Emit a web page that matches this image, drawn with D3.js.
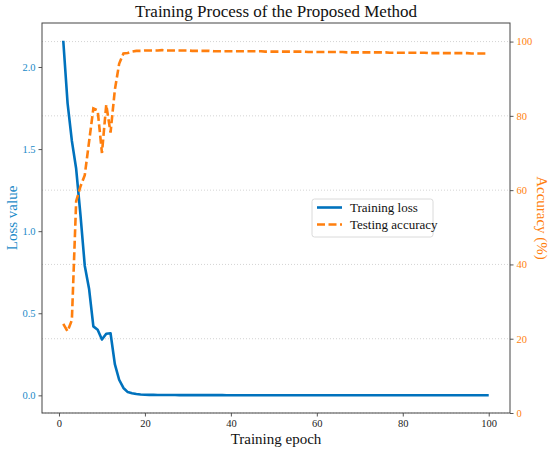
<!DOCTYPE html>
<html>
<head>
<meta charset="utf-8">
<script src="https://cdn.jsdelivr.net/npm/d3@7"></script>
<style>
  body { margin: 0; background: #fff; }
  text { font-family: "Liberation Serif", "Times New Roman", serif; }
</style>
</head>
<body>
<div id="chart"></div>
<script>
// values
var epochs = d3.range(1, 101);

var trainingLoss = [
  2.16, 1.78, 1.55, 1.38, 1.10, 0.79, 0.65, 0.42, 0.40, 0.34,
  0.375, 0.378, 0.19, 0.095, 0.045, 0.02, 0.013, 0.008, 0.005, 0.004,
  0.003, 0.003, 0.0025, 0.0022, 0.002, 0.002, 0.0018, 0.0016, 0.0015, 0.0015,
  0.0014, 0.0013, 0.0013, 0.0012, 0.0012, 0.0011, 0.0011, 0.0011, 0.001, 0.001,
  0.001, 0.001, 0.001, 0.001, 0.0009, 0.0009, 0.0009, 0.0009, 0.0009, 0.0009,
  0.0008, 0.0008, 0.0008, 0.0008, 0.0008, 0.0008, 0.0008, 0.0008, 0.0007, 0.0007,
  0.0007, 0.0007, 0.0007, 0.0007, 0.0007, 0.0007, 0.0007, 0.0006, 0.0006, 0.0006,
  0.0006, 0.0006, 0.0006, 0.0006, 0.0006, 0.0006, 0.0006, 0.0006, 0.0005, 0.0005,
  0.0005, 0.0005, 0.0005, 0.0005, 0.0005, 0.0005, 0.0005, 0.0005, 0.0005, 0.0005,
  0.0005, 0.0005, 0.0005, 0.0005, 0.0005, 0.0005, 0.0005, 0.0005, 0.0005, 0.0005
];

var testingAccuracy = [
  24.0, 22.0, 25.0, 57.0, 61.0, 64.0, 73.0, 82.0, 81.5, 70.0,
  83.0, 75.5, 87.0, 94.0, 96.8, 96.9, 97.3, 97.5, 97.5, 97.6,
  97.6, 97.6, 97.6, 97.7, 97.6, 97.6, 97.6, 97.6, 97.6, 97.6,
  97.5, 97.5, 97.5, 97.5, 97.5, 97.4, 97.4, 97.4, 97.4, 97.4,
  97.4, 97.4, 97.4, 97.4, 97.4, 97.4, 97.4, 97.3, 97.3, 97.3,
  97.3, 97.3, 97.3, 97.3, 97.3, 97.3, 97.3, 97.2, 97.2, 97.2,
  97.2, 97.2, 97.2, 97.2, 97.2, 97.2, 97.1, 97.1, 97.1, 97.1,
  97.1, 97.1, 97.1, 97.1, 97.1, 97.1, 97.0, 97.0, 97.0, 97.0,
  97.0, 97.0, 97.0, 97.0, 97.0, 96.9, 96.9, 96.9, 96.9, 96.9,
  96.9, 96.9, 96.9, 96.9, 96.9, 96.8, 96.8, 96.8, 96.8, 96.8
];

var xTicks = [0, 20, 40, 60, 80, 100];
var lossTicks = [0.0, 0.5, 1.0, 1.5, 2.0];
var accTicks = [0, 20, 40, 60, 80, 100];

var blue = "#0072bd", blueText = "#1a8ac8", orange = "#ff7f0e", frame = "#444";
var serif = "Liberation Serif, Times New Roman, serif";

var width = 550, height = 453;
var plot = { left: 42, right: 510, top: 23, bottom: 413 };

var svg = d3.select("#chart").append("svg")
    .attr("width", width)
    .attr("height", height);

// matplotlib-like 5% margins
var xPad = (d3.max(epochs) - d3.min(epochs)) * 0.05;
var x = d3.scaleLinear()
    .domain([d3.min(epochs) - xPad, d3.max(epochs) + xPad])
    .range([plot.left, plot.right]);

var lPad = (d3.max(trainingLoss) - d3.min(trainingLoss)) * 0.05;
var yLoss = d3.scaleLinear()
    .domain([d3.min(trainingLoss) - lPad, d3.max(trainingLoss) + lPad])
    .range([plot.bottom, plot.top]);

var yAcc = d3.scaleLinear()
    .domain([0, 105])
    .range([plot.bottom, plot.top]);

// grid from the accuracy axis
svg.append("g")
    .selectAll("line")
    .data(accTicks)
    .enter().append("line")
    .attr("x1", plot.left)
    .attr("x2", plot.right)
    .attr("y1", function(d){ return yAcc(d); })
    .attr("y2", function(d){ return yAcc(d); })
    .style("stroke", "#c8c8c8")
    .style("stroke-width", 0.8)
    .style("stroke-dasharray", "1,2");

// lines
var lossLine = d3.line()
    .x(function(d, i){ return x(epochs[i]); })
    .y(function(d){ return yLoss(d); });

var accLine = d3.line()
    .x(function(d, i){ return x(epochs[i]); })
    .y(function(d){ return yAcc(d); });

svg.append("path")
    .datum(trainingLoss)
    .attr("d", lossLine)
    .style("fill", "none")
    .style("stroke", blue)
    .style("stroke-width", 2.6)
    .style("stroke-linejoin", "round");

svg.append("path")
    .datum(testingAccuracy)
    .attr("d", accLine)
    .style("fill", "none")
    .style("stroke", orange)
    .style("stroke-width", 2.6)
    .style("stroke-dasharray", "8,3.5");

// axes
function styleAxis(g, color) {
    g.attr("font-family", serif).attr("font-size", 10.5);
    g.select(".domain").remove();
    g.selectAll(".tick line").style("stroke", frame).style("stroke-width", 0.9);
    g.selectAll(".tick text")
        .attr("font-family", serif)
        .style("fill", color);
}

svg.append("g")
    .attr("transform", "translate(0," + plot.bottom + ")")
    .call(d3.axisBottom(x).tickValues(xTicks).tickSize(3.5).tickPadding(3))
    .call(styleAxis, "#222");

svg.append("g")
    .attr("transform", "translate(" + plot.left + ",0)")
    .call(d3.axisLeft(yLoss).tickValues(lossTicks).tickSize(3.5).tickPadding(3)
        .tickFormat(d3.format(".1f")))
    .call(styleAxis, blueText);

svg.append("g")
    .attr("transform", "translate(" + plot.right + ",0)")
    .call(d3.axisRight(yAcc).tickValues(accTicks).tickSize(3.5).tickPadding(3))
    .call(styleAxis, orange);

// frame
svg.append("rect")
    .attr("x", plot.left)
    .attr("y", plot.top)
    .attr("width", plot.right - plot.left)
    .attr("height", plot.bottom - plot.top)
    .style("fill", "none")
    .style("stroke", frame)
    .style("stroke-width", 1);

// titles
svg.append("text")
    .attr("x", (plot.left + plot.right) / 2)
    .attr("y", 17)
    .attr("text-anchor", "middle")
    .style("font-size", "17px")
    .style("fill", "#111")
    .text("Training Process of the Proposed Method");

svg.append("text")
    .attr("x", (plot.left + plot.right) / 2)
    .attr("y", 444)
    .attr("text-anchor", "middle")
    .style("font-size", "15px")
    .style("fill", "#111")
    .text("Training epoch");

svg.append("text")
    .attr("transform", "translate(17," + ((plot.top + plot.bottom) / 2) + ") rotate(-90)")
    .attr("text-anchor", "middle")
    .style("font-size", "15px")
    .style("fill", blueText)
    .text("Loss value");

svg.append("text")
    .attr("transform", "translate(537," + ((plot.top + plot.bottom) / 2) + ") rotate(90)")
    .attr("text-anchor", "middle")
    .style("font-size", "15px")
    .style("fill", orange)
    .text("Accuracy (%)");

// legend
var legend = svg.append("g").attr("transform", "translate(312,199)");

legend.append("rect")
    .attr("width", 121)
    .attr("height", 38)
    .attr("rx", 2.5)
    .style("fill", "#fff")
    .style("fill-opacity", 0.8)
    .style("stroke", "#d0d0d0")
    .style("stroke-width", 0.8);

var entries = [
    { label: "Training loss", color: blue, dash: null },
    { label: "Testing accuracy", color: orange, dash: "8,3.5" }
];

entries.forEach(function(e, i) {
    var yy = 8.5 + i * 17;
    legend.append("line")
        .attr("x1", 5).attr("x2", 30)
        .attr("y1", yy).attr("y2", yy)
        .style("stroke", e.color)
        .style("stroke-width", 2.6)
        .style("stroke-dasharray", e.dash);
    legend.append("text")
        .attr("x", 38)
        .attr("y", yy + 4.5)
        .style("font-size", "13px")
        .style("fill", "#111")
        .text(e.label);
});
</script>
</body>
</html>
